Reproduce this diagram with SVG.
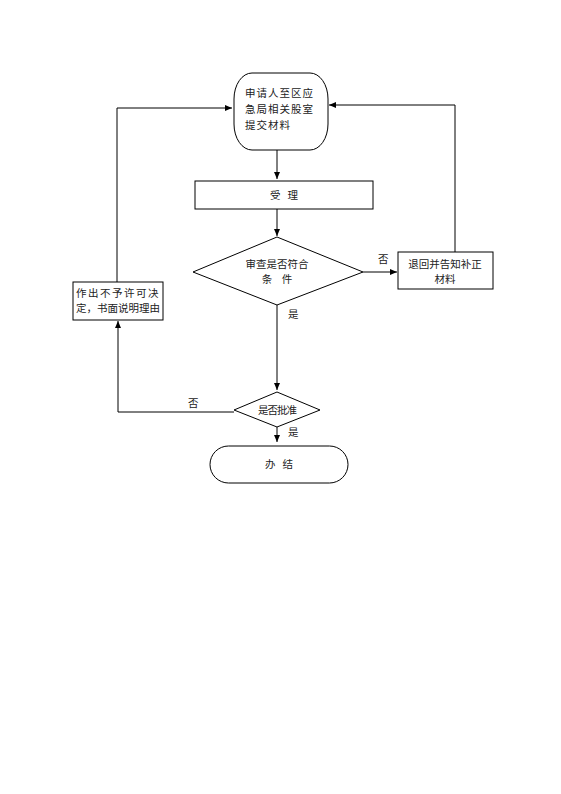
<svg xmlns="http://www.w3.org/2000/svg" width="561" height="794" viewBox="0 0 561 794">
<defs>
<marker id="ah" markerWidth="8" markerHeight="8" refX="7" refY="4" orient="auto" markerUnits="userSpaceOnUse">
<path d="M0,1 L7,4 L0,7 Z" fill="#000"/>
</marker>
</defs>
<style>
.s{fill:#fff;stroke:#000;stroke-width:1}
.t{font-family:"Noto Sans CJK SC","Liberation Serif",serif;font-size:10.5px;fill:#222}
.c{stroke:#000;stroke-width:1;fill:none}
</style>
<rect width="561" height="794" fill="#fff"/>
<g id="connectors">
<path class="c" d="M277,150 V179" marker-end="url(#ah)"/>
<path class="c" d="M277,208 V236" marker-end="url(#ah)"/>
<path class="c" d="M363,272 H397" marker-end="url(#ah)"/>
<path class="c" d="M455,252 V105 H329" stroke="#555" marker-end="url(#ah)"/>
<path class="c" d="M277,305 V390" stroke-width="2" marker-end="url(#ah)"/>
<path class="c" d="M277,427 V442" marker-end="url(#ah)"/>
<path class="c" d="M234,412 H118 V321" marker-end="url(#ah)"/>
<path class="c" d="M117,282 V108 H232" marker-end="url(#ah)"/>
<text class="t" x="378" y="263">否</text>
<text class="t" x="288" y="318">是</text>
<text class="t" x="188" y="407">否</text>
<text class="t" x="288" y="436">是</text>
</g>
<g id="n1">
<rect class="s" x="234" y="73" width="94" height="77" rx="18" ry="26"/>
<text class="t" x="245" y="97" font-size="12" letter-spacing="1">申请人至区应</text>
<text class="t" x="245" y="113" font-size="12" letter-spacing="1">急局相关股室</text>
<text class="t" x="245" y="129" font-size="12" letter-spacing="1">提交材料</text>
</g>
<g id="n2">
<rect class="s" x="195" y="181" width="178" height="28"/>
<text class="t" x="284" y="199" text-anchor="middle" xml:space="preserve">受   理</text>
</g>
<g id="n3">
<polygon class="s" points="277,237 363,272 277,305 193,272"/>
<text class="t" x="277" y="268" text-anchor="middle">审查是否符合</text>
<text class="t" x="277" y="283" text-anchor="middle" xml:space="preserve">条    件</text>
</g>
<g id="n4">
<rect class="s" x="398" y="252" width="95" height="37"/>
<text class="t" x="445" y="268" text-anchor="middle">退回并告知补正</text>
<text class="t" x="445" y="283" text-anchor="middle">材料</text>
</g>
<g id="n5">
<rect class="s" x="73" y="282" width="90" height="38"/>
<text class="t" x="118" y="297" text-anchor="middle" letter-spacing="1.5">作出不予许可决</text>
<text class="t" x="118" y="312" text-anchor="middle">定，书面说明理由</text>
</g>
<g id="n6">
<polygon class="s" points="277,392 320,410 277,427 234,410"/>
<text class="t" x="277" y="414" text-anchor="middle" font-size="9.5" letter-spacing="-1">是否批准</text>
</g>
<g id="n7">
<rect class="s" x="210" y="446" width="138" height="37" rx="18.5" ry="18.5"/>
<text class="t" x="279" y="468" text-anchor="middle" xml:space="preserve">办   结</text>
</g>
</svg>
